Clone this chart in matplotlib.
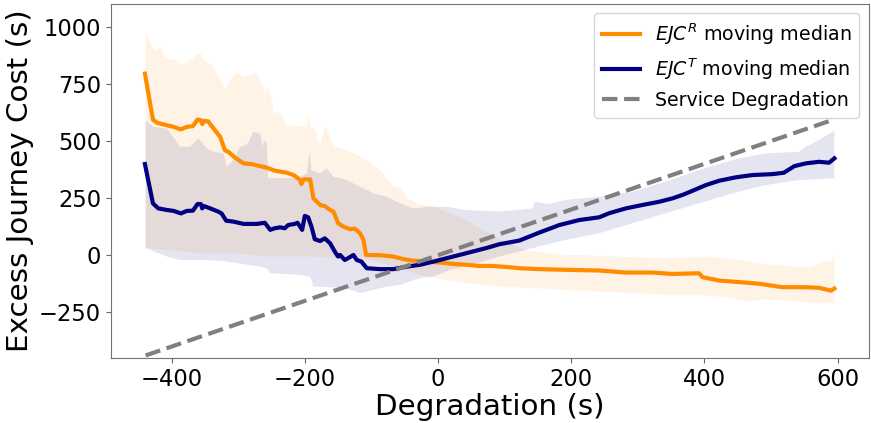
import matplotlib
matplotlib.use("Agg")
import matplotlib.pyplot as plt
import numpy as np

# moving medians of excess journey cost vs degradation
ejc_r_x = [-440, -428, -422, -407, -397, -386, -377, -368, -361, -356, -354, -351, -345, -337, -327,
           -320, -315, -305, -292, -280, -270, -257, -245, -235, -227, -217, -208, -205, -202, -192,
           -187, -177, -170, -162, -157, -150, -142, -132, -125, -117, -112, -108, -87, -67, -52,
           -37, -17, 2, 22, 43, 62, 82, 105, 122, 152, 192, 242, 282, 322, 352, 392, 397, 422, 462,
           482, 517, 552, 572, 590, 595]
ejc_r_y = [795, 594, 580, 569, 562, 551, 562, 565, 594, 591, 574, 588, 586, 555, 518,
           460, 453, 428, 402, 399, 392, 383, 370, 365, 361, 351, 332, 312, 332, 332,
           249, 220, 215, 198, 191, 140, 125, 114, 116, 96, 67, 1, 0, -6, -17,
           -24, -28, -32, -38, -42, -47, -47, -52, -57, -61, -64, -67, -76, -76, -82, -79, -96, -111, -120,
           -125, -140, -140, -143, -155, -146]

ejc_t_x = [-440, -428, -420, -407, -397, -386, -377, -368, -361, -356, -354, -351, -342, -330, -325,
           -318, -307, -292, -272, -260, -252, -245, -237, -230, -225, -215, -211, -207, -204, -200,
           -195, -190, -185, -177, -170, -162, -155, -150, -147, -140, -135, -127, -122, -115, -107,
           -87, -67, -47, -27, -7, 13, 32, 52, 72, 92, 122, 152, 182, 212, 242, 257, 282, 307, 332,
           352, 367, 382, 402, 422, 447, 472, 502, 519, 535, 552, 572, 587, 595]
ejc_t_y = [399, 227, 205, 198, 194, 183, 194, 195, 224, 224, 205, 215, 205, 191, 183,
           151, 147, 137, 137, 142, 111, 118, 122, 118, 132, 137, 142, 125, 111, 172,
           166, 125, 70, 62, 74, 52, 16, -6, 1, -21, -13, 1, -21, -28, -57,
           -61, -61, -50, -42, -28, -13, 1, 16, 31, 48, 64, 99, 132, 154, 166, 184, 205, 220, 234,
           249, 264, 282, 307, 326, 341, 351, 355, 361, 390, 402, 409, 405, 424]

# spread bands (upper / lower edges)
r_up_x = [-439, -430, -425, -420, -415, -410, -397, -392, -384, -374, -367, -361, -356, -352, -340,
          -327, -320, -312, -302, -292, -282, -272, -266, -261, -260, -257, -252, -247, -237, -227,
          -212, -197, -195, -191, -185, -177, -170, -167, -157, -147, -127, -107, -87, -67, -57,
          -47, -42, -27, -7, 17, 42, 67, 92, 117, 142, 167, 192, 217, 242, 292, 342, 362, 392, 417,
          442, 467, 492, 517, 542, 562, 572, 582, 590, 595]
r_up_y = [970, 919, 897, 905, 909, 861, 857, 854, 832, 854, 861, 883, 883, 854, 832,
          774, 722, 766, 802, 781, 788, 802, 752, 737, 679, 737, 715, 628, 621, 569,
          565, 565, 628, 562, 548, 480, 560, 555, 475, 468, 446, 417, 373, 300, 293,
          256, 242, 222, 212, 184, 154, 111, 74, 38, 16, 9, 1, 1, -3, -9, -13, -12, -7, -10,
          -18, -28, -40, -45, -52, -50, -35, -21, -30, 1]
r_lo_x = [-439, -407, -357, -307, -257, -207, -187, -157, -107, -67, -27, 13, 42, 92, 142,
          192, 242, 292, 342, 392, 442, 467, 492, 542, 567, 595]
r_lo_y = [31, 23, 9, 9, -6, -6, -6, -13, -17, -50, -86, -108, -122, -137, -144,
          -152, -159, -166, -173, -173, -188, -203, -192, -203, -210, -210]

t_up_x = [-439, -427, -407, -387, -372, -360, -347, -337, -322, -317, -307, -297, -287, -277, -267,
          -263, -261, -257, -255, -227, -207, -197, -193, -190, -177, -167, -157, -137, -117, -97,
          -77, -57, -37, -17, 13, 42, 92, 142, 145, 167, 192, 242, 292, 342, 392, 442, 492, 542,
          552, 572, 595]
t_up_y = [588, 562, 555, 475, 475, 511, 468, 453, 446, 387, 417, 475, 482, 540, 533,
          475, 504, 490, 337, 337, 344, 358, 453, 373, 358, 380, 344, 329, 300, 271,
          256, 227, 205, 212, 212, 198, 191, 205, 234, 224, 242, 256, 278, 322, 373, 417, 446, 453,
          475, 504, 545]
t_lo_x = [-439, -407, -387, -347, -317, -267, -257, -252, -207, -192, -187, -137, -117, -107, -77,
          -57, -27, -7, 22, 42, 92, 142, 192, 242, 292, 342, 392, 442, 492, 542, 595]
t_lo_y = [31, -6, -21, -21, -28, -50, -57, -79, -86, -94, -137, -144, -166, -160, -137,
          -130, -100, -93, -60, -50, -6, 31, 67, 96, 140, 184, 227, 271, 307, 329, 337]

orange = "darkorange"
navy = "navy"

fig = plt.figure(figsize=(8.71, 4.23), dpi=100)
ax = fig.add_axes([0.1274, 0.1537, 0.8703, 0.8369])

ax.fill(r_up_x + r_lo_x[::-1], r_up_y + r_lo_y[::-1], color=orange, alpha=0.1, lw=0)
ax.fill(t_up_x + t_lo_x[::-1], t_up_y + t_lo_y[::-1], color=navy, alpha=0.1, lw=0)

ax.plot(ejc_r_x, ejc_r_y, color=orange, lw=3, label=r"$EJC^R$ moving median")
ax.plot(ejc_t_x, ejc_t_y, color=navy, lw=3, label=r"$EJC^T$ moving median")
deg = np.array([-439, 595])
ax.plot(deg, deg, color="gray", lw=3, ls="--", label="Service Degradation")

ax.set_ylim(-450, 1100)
ax.set_xlim(-491, 647)
ax.set_xticks([-400, -200, 0, 200, 400, 600])
ax.set_yticks([-250, 0, 250, 500, 750, 1000])
ax.tick_params(labelsize=16.3, color="0.4")
for s in ax.spines.values():
    s.set_color("0.45")

ax.set_xlabel("Degradation (s)", fontsize=21.2, labelpad=2)
ax.set_ylabel("Excess Journey Cost (s)", fontsize=21.2, labelpad=4)
ax.legend(loc="upper right", fontsize=13.7)

fig.savefig("out.png", dpi=100)
